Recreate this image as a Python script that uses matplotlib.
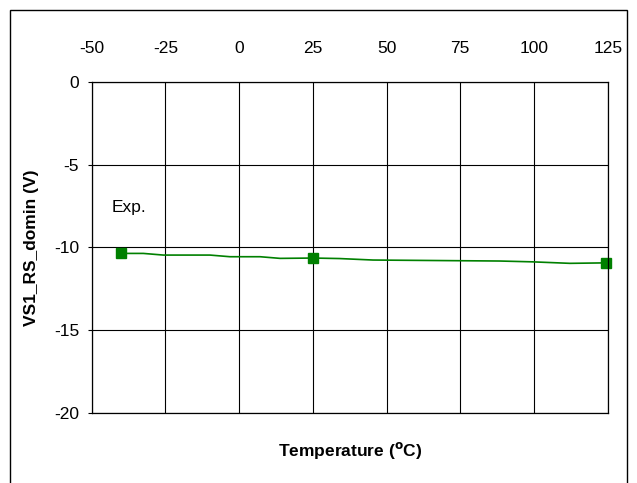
import matplotlib
matplotlib.use("Agg")
from matplotlib import pyplot as plt
from matplotlib.patches import Rectangle

# measured curve
temp = [-40, -32.5, -25.7, -9.9, -3.1, 7.1, 13.9, 25, 34, 45.4, 88.4, 99.6, 112.2, 125]
vs1 = [-10.37, -10.37, -10.47, -10.47, -10.57, -10.57, -10.67, -10.65, -10.68, -10.77, -10.83, -10.88, -10.97, -10.94]

# marked points
mark_t = [-40, 25, 124.5]
mark_v = [-10.37, -10.65, -10.94]

xticks = [-50, -25, 0, 25, 50, 75, 100, 125]
yticks = [0, -5, -10, -15, -20]

plt.rcParams['font.family'] = ['Liberation Sans', 'DejaVu Sans']
plt.rcParams['axes.unicode_minus'] = False

fig = plt.figure(figsize=(6.37, 4.83), dpi=100)
ax = fig.add_axes([0.144, 0.1455, 0.810, 0.685])

ax.plot(temp, vs1, color='green', lw=1.2)
ax.plot(mark_t, mark_v, ls='none', marker='s', ms=6.5, color='green', clip_on=False)

ax.set_xlim(-50, 125)
ax.set_ylim(-20, 0)
ax.set_xticks(xticks)
ax.set_yticks(yticks)
ax.xaxis.tick_top()
ax.tick_params(axis='x', length=0, pad=18.5, labelsize=12.5)
ax.tick_params(axis='y', length=3, width=0.8, pad=6, labelsize=12.5)
ax.grid(True, color='black', lw=0.8)
for s in ax.spines.values():
    s.set_linewidth(0.9)

ax.text(-43.1, -7.6, 'Exp.', fontsize=12.5, va='center', ha='left')

ax.set_ylabel('VS1_RS_domin (V)', fontsize=12.5, fontweight='bold', labelpad=11)
fig.text(0.55, 0.068, r'Temperature ($\mathbf{^o}$C)', fontsize=12.5,
         fontweight='bold', ha='center', va='center')

# outer frame
fig.patches.append(Rectangle((9.5 / 637, -0.01), (627 - 9.5) / 637, 1.01 - 10 / 483,
                             transform=fig.transFigure, fill=False, ec='black', lw=1))

plt.savefig('out.png', dpi=100)
